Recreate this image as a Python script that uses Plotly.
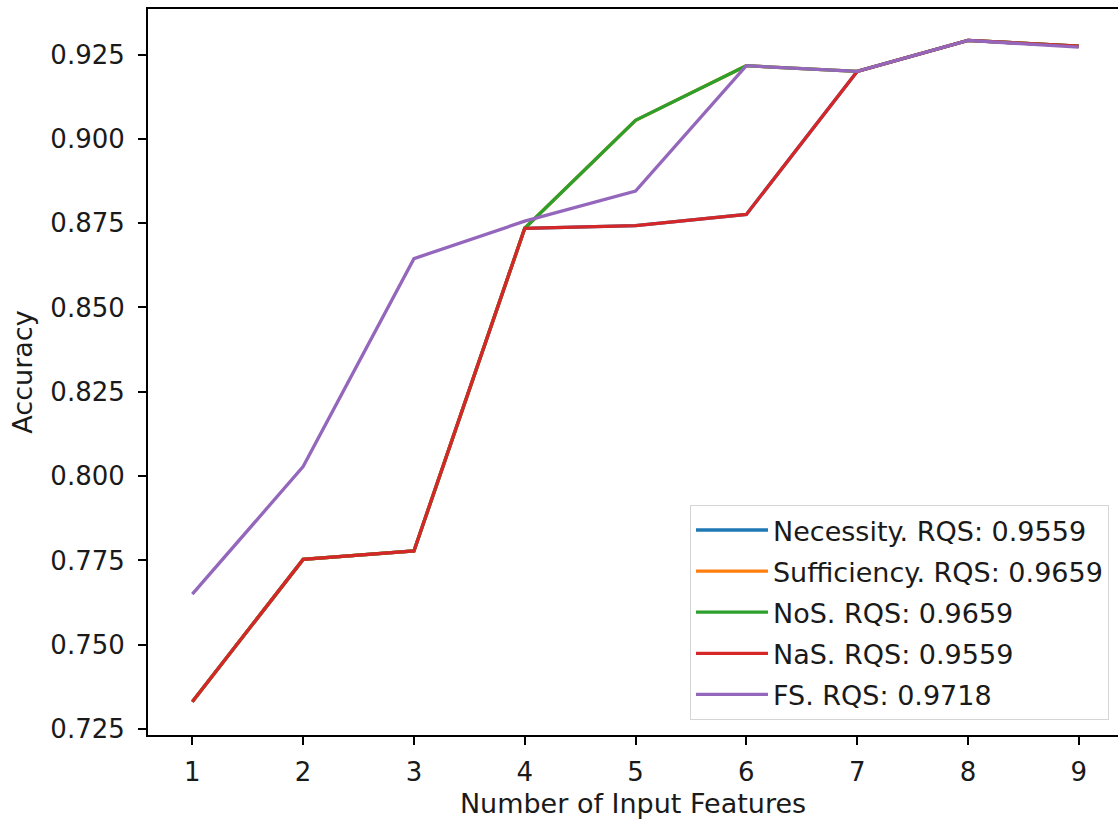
import plotly.graph_objects as go

# Accuracy vs. number of input features for each feature-ranking method
n_features = [1, 2, 3, 4, 5, 6, 7, 8, 9]

necessity = [0.7331, 0.7753, 0.7778, 0.8735, 0.8743, 0.8776, 0.9200, 0.9292, 0.9275]
sufficiency = [0.7331, 0.7753, 0.7778, 0.8735, 0.9055, 0.9217, 0.9200, 0.9292, 0.9275]
nos = [0.7331, 0.7753, 0.7778, 0.8735, 0.9055, 0.9217, 0.9200, 0.9292, 0.9275]
nas = [0.7331, 0.7753, 0.7778, 0.8735, 0.8743, 0.8776, 0.9200, 0.9292, 0.9275]
fs = [0.7650, 0.8028, 0.8645, 0.8756, 0.8845, 0.9217, 0.9200, 0.9292, 0.9272]

series_names = [
    "Necessity. RQS: 0.9559",
    "Sufficiency. RQS: 0.9659",
    "NoS. RQS: 0.9659",
    "NaS. RQS: 0.9559",
    "FS. RQS: 0.9718",
]
series_values = [necessity, sufficiency, nos, nas, fs]
colors = ["#1f77b4", "#ff7f0e", "#2ca02c", "#d62728", "#9467bd"]

y_ticks = [0.725, 0.750, 0.775, 0.800, 0.825, 0.850, 0.875, 0.900, 0.925]

FONT = "DejaVu Sans"
TICK_SIZE = 26
LABEL_SIZE = 27

fig = go.Figure()
for i, (name, vals, col) in enumerate(zip(series_names, series_values, colors)):
    fig.add_trace(go.Scatter(
        x=n_features, y=vals, mode="lines", name=name,
        line=dict(color=col, width=3.3),
        legendgroup=f"g{i}",
    ))

axis_common = dict(
    showgrid=False, zeroline=False, showline=True, linecolor="black",
    linewidth=2, ticks="outside", ticklen=8, tickwidth=2,
    tickcolor="black", tickfont=dict(family=FONT, size=TICK_SIZE, color="#1a1a1a"),
)

fig.update_layout(
    width=1118, height=819,
    margin=dict(l=148, r=0, t=9, b=84),
    paper_bgcolor="white", plot_bgcolor="white",
    font=dict(family=FONT, size=LABEL_SIZE, color="#1a1a1a"),
    xaxis=dict(
        range=[0.6, 9.354], tickvals=n_features, mirror=True,
        title=dict(text="Number of Input Features", font=dict(family=FONT, size=LABEL_SIZE), standoff=10),
        ticklabelstandoff=5,
        **axis_common,
    ),
    yaxis=dict(
        range=[0.72322, 0.93852], tickvals=y_ticks, mirror=False,
        ticktext=[f"{v:.3f}" for v in y_ticks],
        title=dict(text="Accuracy", font=dict(family=FONT, size=LABEL_SIZE), standoff=10),
        ticklabelstandoff=8,
        **axis_common,
    ),
    legend=dict(
        x=0.9907, y=0.0207, xanchor="right", yanchor="bottom",
        bgcolor="rgba(255,255,255,0.8)", bordercolor="#d5d5d5", borderwidth=1,
        font=dict(family=FONT, size=LABEL_SIZE, color="#1a1a1a"),
        tracegroupgap=3, itemwidth=72,
    ),
    showlegend=True,
)

fig.write_html("out.html")
